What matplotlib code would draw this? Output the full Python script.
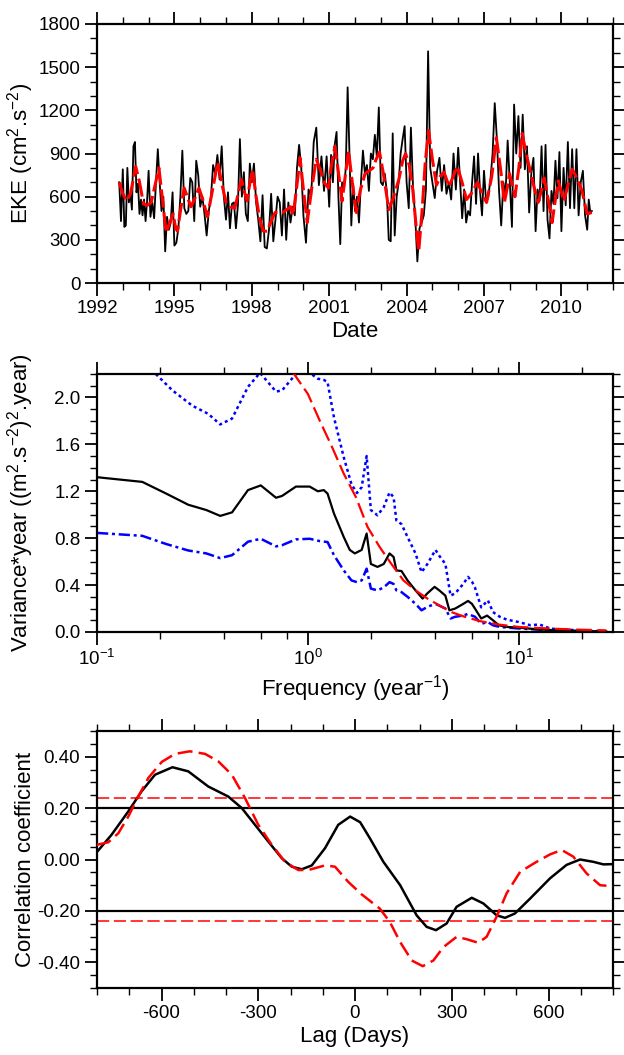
import numpy as np
import matplotlib
matplotlib.use("Agg")
import matplotlib.pyplot as plt
from matplotlib.ticker import MultipleLocator, FixedLocator, NullFormatter, FixedFormatter

plt.rcParams['font.family'] = ['Liberation Sans', 'DejaVu Sans']
plt.rcParams['axes.unicode_minus'] = False
plt.rcParams['mathtext.fontset'] = 'custom'
plt.rcParams['mathtext.rm'] = 'Liberation Sans'
plt.rcParams['mathtext.it'] = 'Liberation Sans'
plt.rcParams['mathtext.bf'] = 'Liberation Sans'

# ---------------- Panel 1: EKE time series ----------------
eke_start = 1992.86
eke_end = 2011.18
eke_years = [1992, 1993, 1994, 1995, 1996, 1997, 1998, 1999, 2000, 2001,
             2002, 2003, 2004, 2005, 2006, 2007, 2008, 2009, 2010, 2011]
eke_1992 = [700, 430]
eke_1993 = [790, 390, 400, 800, 560, 620, 510, 950, 980, 630, 690, 480, 580, 470, 580, 430, 570]
eke_1994 = [780, 460, 560, 450, 700, 930, 700, 500, 600, 220, 460, 370, 420, 630]
eke_1995 = [260, 280, 380, 600, 920, 520, 480, 500, 730, 700, 430, 850, 750]
eke_1996 = [530, 600, 480, 330, 500, 600, 820, 760, 890, 720, 950, 600]
eke_1997 = [440, 630, 380, 550, 560, 380, 540, 1000, 600, 770, 480, 430, 830]
eke_1998 = [700, 830, 560, 440, 290, 610, 250, 240, 370, 620, 290, 440]
eke_1999 = [600, 560, 330, 650, 300, 560, 420, 530, 470, 800, 960, 800]
eke_2000 = [470, 280, 650, 600, 980, 1080, 680, 880, 640, 880]
eke_2001 = [530, 890, 700, 960, 1050, 600, 270, 700, 650, 800, 1360, 900, 400, 690]
eke_2002 = [500, 600, 420, 700, 920, 760, 820, 640, 900, 860, 1030, 880, 1220]
eke_2003 = [700, 680, 760, 640, 300, 290, 1040, 330, 600, 700, 900, 1000, 1090]
eke_2004 = [700, 520, 1080, 660, 460, 150, 380, 420, 470, 650, 1610, 800]
eke_2005 = [700, 590, 780, 870, 640, 820, 620, 700, 580, 900, 650]
eke_2006 = [940, 700, 450, 650, 420, 500, 470, 700, 880, 550, 900, 640, 470]
eke_2007 = [780, 560, 600, 720, 900, 1250, 1000, 640, 400, 700, 610, 990]
eke_2008 = [700, 390, 1240, 900, 1160, 800, 1170, 790, 950, 490, 760, 870]
eke_2009 = [360, 650, 570, 950, 500, 960, 440, 310, 640, 550, 850, 590, 910]
eke_2010 = [360, 800, 540, 980, 520, 930, 520, 930, 470, 700, 780, 470]
eke_2011 = [370, 580, 490, 500]
eke_blocks = [eke_1992, eke_1993, eke_1994, eke_1995, eke_1996, eke_1997, eke_1998,
              eke_1999, eke_2000, eke_2001, eke_2002, eke_2003, eke_2004, eke_2005,
              eke_2006, eke_2007, eke_2008, eke_2009, eke_2010, eke_2011]

eke_smooth_t = [1992.86, 1993.0, 1993.15, 1993.3, 1993.5, 1993.65, 1993.8, 1993.95, 1994.1,
                1994.25, 1994.4, 1994.55, 1994.68, 1994.82, 1994.95, 1995.05, 1995.12, 1995.25,
                1995.38, 1995.5, 1995.64, 1995.8, 1995.95, 1996.1, 1996.28, 1996.45, 1996.68,
                1996.85, 1997.0, 1997.15, 1997.34, 1997.46, 1997.6, 1997.7, 1997.82, 1997.92,
                1998.03, 1998.15, 1998.3, 1998.45, 1998.6, 1998.75, 1998.9, 1999.05, 1999.2,
                1999.35, 1999.5, 1999.6, 1999.75, 1999.87, 2000.0, 2000.15, 2000.3, 2000.5,
                2000.65, 2000.8, 2000.97, 2001.1, 2001.22, 2001.35, 2001.5, 2001.62, 2001.75,
                2001.9, 2002.05, 2002.2, 2002.39, 2002.55, 2002.7, 2002.82, 2002.95, 2003.1,
                2003.31, 2003.5, 2003.7, 2003.85, 2003.96, 2004.1, 2004.24, 2004.35, 2004.47,
                2004.6, 2004.72, 2004.85, 2005.0, 2005.16, 2005.3, 2005.45, 2005.55, 2005.65,
                2005.8, 2005.97, 2006.15, 2006.32, 2006.5, 2006.75, 2006.95, 2007.1, 2007.3,
                2007.48, 2007.65, 2007.79, 2007.9, 2007.99, 2008.1, 2008.2, 2008.35, 2008.48,
                2008.62, 2008.79, 2008.95, 2009.1, 2009.22, 2009.33, 2009.5, 2009.64, 2009.75,
                2009.88, 2010.0, 2010.1, 2010.25, 2010.42, 2010.6, 2010.8, 2010.92, 2011.0, 2011.18]
eke_smooth_v = [700, 620, 570, 620, 810, 700, 550, 540, 560,
                680, 800, 560, 350, 420, 480, 380, 360, 520,
                660, 600, 530, 590, 660, 580, 460, 620, 840,
                680, 560, 530, 520, 610, 720, 640, 570, 690,
                790, 620, 450, 360, 360, 430, 490, 490, 490,
                510, 530, 470, 680, 870, 650, 420, 630, 860,
                790, 700, 660, 830, 950, 780, 570, 740, 920,
                690, 490, 640, 760, 780, 800, 860, 910, 760,
                510, 600, 720, 850, 900, 820, 650, 430, 220,
                500, 830, 1060, 860, 680, 740, 770, 720, 670,
                740, 810, 700, 580, 620, 700, 610, 560, 740,
                1010, 780, 560, 660, 760, 680, 600, 800, 1040,
                910, 780, 660, 560, 640, 730, 570, 420, 560,
                710, 630, 570, 680, 790, 730, 640, 540, 480, 490]

# ---------------- Panel 2: spectrum ----------------
spec_f = [0.1, 0.164, 0.213, 0.271, 0.33, 0.384, 0.437, 0.52, 0.598, 0.706, 0.754, 0.878,
          1.02, 1.115, 1.19, 1.24, 1.33, 1.48, 1.58, 1.67, 1.80, 1.90, 1.99, 2.14, 2.29,
          2.44, 2.55, 2.63, 2.78, 2.97, 3.24, 3.5, 3.69, 3.99, 4.2, 4.49, 4.69, 5.0, 5.46,
          5.75, 6.0, 6.2, 6.64, 7.08, 7.55, 8.06, 8.8, 10.0, 11.4, 13.0, 15.5, 19.2, 26.0]
spec_v = [1.32, 1.28, 1.18, 1.085, 1.04, 0.99, 1.02, 1.21, 1.25, 1.145, 1.16, 1.24,
          1.24, 1.20, 1.21, 1.18, 1.01, 0.81, 0.70, 0.67, 0.70, 0.84, 0.58, 0.555, 0.58,
          0.67, 0.64, 0.525, 0.52, 0.44, 0.355, 0.285, 0.33, 0.385, 0.355, 0.31, 0.185, 0.20, 0.24,
          0.265, 0.24, 0.20, 0.115, 0.14, 0.10, 0.057, 0.043, 0.037, 0.028, 0.02, 0.014, 0.009, 0.005]

up_f = [0.1, 0.164, 0.19, 0.228, 0.283, 0.337, 0.384, 0.437, 0.52, 0.593, 0.706, 0.754, 0.878,
        1.02, 1.115, 1.19, 1.24, 1.33, 1.48, 1.61, 1.71, 1.80, 1.90, 1.99, 2.14, 2.29, 2.44,
        2.55, 2.63, 2.78, 2.97, 3.24, 3.46, 3.69, 4.03, 4.2, 4.49, 4.75, 5.0, 5.46, 5.75, 6.0,
        6.2, 6.64, 7.14, 7.55, 8.13, 8.8, 10.0, 11.4, 12.5, 14.2, 17.0, 21.0, 26.0]
up_v = [2.35, 2.28, 2.2, 2.06, 1.93, 1.86, 1.77, 1.82, 2.09, 2.21, 2.05, 2.06, 2.2,
        2.21, 2.16, 2.15, 2.13, 1.83, 1.49, 1.26, 1.185, 1.235, 1.5, 1.04, 0.995, 1.065, 1.19,
        1.15, 0.95, 0.92, 0.81, 0.67, 0.51, 0.58, 0.70, 0.65, 0.58, 0.31, 0.33, 0.41, 0.47, 0.43,
        0.38, 0.21, 0.27, 0.17, 0.13, 0.105, 0.085, 0.057, 0.065, 0.028, 0.02, 0.009, 0.006]

lo_f = [0.1, 0.164, 0.213, 0.271, 0.33, 0.384, 0.437, 0.52, 0.598, 0.706, 0.754, 0.878,
        1.02, 1.14, 1.24, 1.33, 1.48, 1.61, 1.71, 1.80, 1.90, 1.99, 2.14, 2.29, 2.44, 2.55,
        2.63, 2.78, 2.97, 3.24, 3.46, 3.69, 4.03, 4.2, 4.49, 4.75, 5.0, 5.46, 5.75, 6.0, 6.2,
        6.64, 7.14, 7.55, 8.13, 10.0, 12.5, 17.0, 26.0]
lo_v = [0.845, 0.82, 0.75, 0.695, 0.67, 0.63, 0.655, 0.77, 0.795, 0.73, 0.74, 0.79,
        0.795, 0.775, 0.767, 0.655, 0.525, 0.44, 0.425, 0.44, 0.54, 0.37, 0.355, 0.38, 0.425, 0.41,
        0.355, 0.34, 0.30, 0.24, 0.185, 0.215, 0.24, 0.225, 0.20, 0.115, 0.13, 0.14, 0.155, 0.14, 0.13,
        0.07, 0.085, 0.057, 0.043, 0.03, 0.02, 0.011, 0.005]

red_f = [0.8, 0.86, 1.0, 1.14, 1.30, 1.48, 1.69, 1.92, 2.19, 2.49, 2.84, 3.24, 3.69, 4.2,
         4.79, 5.46, 6.5, 8.06, 10.0, 12.5, 15.5, 19.2, 26.0]
red_v = [2.4, 2.2, 2.03, 1.80, 1.58, 1.35, 1.15, 0.895, 0.725, 0.58, 0.44, 0.355, 0.285, 0.227,
         0.17, 0.134, 0.094, 0.063, 0.043, 0.034, 0.026, 0.02, 0.014]

# ---------------- Panel 3: lagged correlation ----------------
lag_k = [-801, -755, -703, -662, -620, -566, -517, -455, -393, -351, -310, -269, -227, -196,
         -165, -134, -93, -52, -15, 16, 46, 88, 140, 191, 222, 251, 284, 315, 362, 398, 439,
         465, 496, 543, 605, 656, 698, 739, 770, 800]
corr_k = [0.028, 0.096, 0.187, 0.265, 0.330, 0.359, 0.343, 0.284, 0.245, 0.200, 0.135, 0.070,
          0.005, -0.028, -0.038, -0.023, 0.044, 0.135, 0.167, 0.145, 0.083, -0.009, -0.100, -0.217,
          -0.262, -0.275, -0.249, -0.184, -0.149, -0.171, -0.217, -0.227, -0.210, -0.152, -0.073,
          -0.021, 0.000, -0.009, -0.019, -0.018]
lag_r = [-801, -765, -734, -703, -672, -641, -599, -558, -512, -465, -424, -382, -341, -300,
         -258, -217, -176, -145, -93, -62, -21, 20, 77, 108, 140, 176, 210, 243, 274, 315, 346,
         382, 408, 439, 470, 512, 563, 605, 641, 677, 718, 760, 800]
corr_r = [0.057, 0.067, 0.102, 0.167, 0.245, 0.317, 0.380, 0.411, 0.421, 0.411, 0.382, 0.330,
          0.239, 0.135, 0.057, -0.009, -0.041, -0.041, -0.023, -0.028, -0.087, -0.135, -0.191,
          -0.243, -0.321, -0.393, -0.415, -0.393, -0.341, -0.301, -0.310, -0.324, -0.301, -0.223,
          -0.132, -0.048, -0.009, 0.020, 0.037, 0.011, -0.054, -0.100, -0.104]
sig_black = [0.20, -0.20]
sig_red = [0.239, -0.239]

# ---------------- Figure ----------------
W, H = 624, 1055
fig = plt.figure(figsize=(W / 100, H / 100), dpi=100)

def frame(top_px, bot_px):
    return fig.add_axes([97 / W, 1 - bot_px / H, (613 - 97) / W, (bot_px - top_px) / H])

def style(ax):
    for s in ax.spines.values():
        s.set_linewidth(1.6)
    ax.tick_params(which='both', direction='out', top=True, right=True,
                   labeltop=False, labelright=False, labelsize=13.5, pad=3)
    ax.tick_params(which='major', length=9, width=1.3)
    ax.tick_params(which='minor', length=5, width=1.0)

LABEL_FS = 16

# Panel 1
ax1 = frame(24, 283)
t_all, v_all = [], []
for yr, blk in zip(eke_years, eke_blocks):
    n = len(blk)
    if yr == eke_years[0]:
        ts = np.linspace(eke_start, yr + 1, n, endpoint=False)
    elif yr == eke_years[-1]:
        ts = np.linspace(yr, eke_end, n)
    else:
        ts = yr + np.arange(n) / n
    t_all.extend(ts)
    v_all.extend(blk)
ax1.plot(t_all, v_all, color='black', lw=1.3, zorder=2)
ax1.plot(eke_smooth_t, eke_smooth_v, color='red', lw=2.2, dashes=(6, 1.5), zorder=3)
ax1.set_xlim(1992, 2012)
ax1.set_ylim(0, 1800)
ax1.xaxis.set_major_locator(FixedLocator([1992, 1995, 1998, 2001, 2004, 2007, 2010]))
ax1.xaxis.set_major_formatter(FixedFormatter(['1992', '1995', '1998', '2001', '2004', '2007', '2010']))
ax1.xaxis.set_minor_locator(MultipleLocator(1))
ax1.yaxis.set_major_locator(MultipleLocator(300))
ax1.yaxis.set_minor_locator(MultipleLocator(100))
style(ax1)
ax1.set_xlabel('Date', fontsize=LABEL_FS, labelpad=3)
ax1.set_ylabel('EKE (cm$^{2}$.s$^{-2}$)', fontsize=LABEL_FS)

# Panel 2
ax2 = frame(374, 632)
ax2.set_xscale('log')
ax2.plot(up_f, up_v, color='blue', lw=1.8, dashes=(1.2, 1.3), zorder=2)
ax2.plot(lo_f, lo_v, color='blue', lw=1.8, dashes=(4.5, 1.5, 1.2, 1.5), zorder=2)
ax2.plot(spec_f, spec_v, color='black', lw=1.6, zorder=3)
ax2.plot(red_f, red_v, color='red', lw=1.6, dashes=(7, 2.5), zorder=4)
ax2.set_xlim(0.1, 28)
ax2.set_ylim(0, 2.2)
ax2.xaxis.set_major_locator(FixedLocator([0.1, 1, 10]))
ax2.xaxis.set_major_formatter(FixedFormatter(['10$^{-1}$', '10$^{0}$', '10$^{1}$']))
minors = [m * d for d in (0.1, 1, 10) for m in (2, 4, 6, 8)]
ax2.xaxis.set_minor_locator(FixedLocator([m for m in minors if m <= 28]))
ax2.xaxis.set_minor_formatter(NullFormatter())
ax2.yaxis.set_major_locator(FixedLocator([0.0, 0.4, 0.8, 1.2, 1.6, 2.0]))
ax2.yaxis.set_major_formatter(FixedFormatter(['0.0', '0.4', '0.8', '1.2', '1.6', '2.0']))
ax2.yaxis.set_minor_locator(MultipleLocator(0.1))
style(ax2)
ax2.set_xlabel('Frequency (year$^{-1}$)', fontsize=LABEL_FS, labelpad=3)
ax2.set_ylabel('Variance*year ((m$^{2}$.s$^{-2}$)$^{2}$.year)', fontsize=LABEL_FS)

# Panel 3
ax3 = frame(731, 988)
for s in sig_black:
    ax3.axhline(s, color='black', lw=1.6, zorder=2)
for s in sig_red:
    ax3.axhline(s, color='red', lw=1.1, dashes=(8, 3), zorder=2)
ax3.plot(lag_k, corr_k, color='black', lw=1.8, zorder=3)
ax3.plot(lag_r, corr_r, color='red', lw=1.8, dashes=(6, 2.5), zorder=4)
ax3.set_xlim(-800, 800)
ax3.set_ylim(-0.5, 0.5)
ax3.xaxis.set_major_locator(FixedLocator([-600, -300, 0, 300, 600]))
ax3.xaxis.set_major_formatter(FixedFormatter(['-600', '-300', '0', '300', '600']))
ax3.xaxis.set_minor_locator(MultipleLocator(100))
ax3.yaxis.set_major_locator(FixedLocator([-0.4, -0.2, 0.0, 0.2, 0.4]))
ax3.yaxis.set_major_formatter(FixedFormatter(['-0.40', '-0.20', '0.00', '0.20', '0.40']))
ax3.yaxis.set_minor_locator(MultipleLocator(0.05))
style(ax3)
ax3.set_xlabel('Lag (Days)', fontsize=LABEL_FS, labelpad=3)
ax3.set_ylabel('Correlation coefficient', fontsize=LABEL_FS)

for ax in (ax1, ax2, ax3):
    ax.yaxis.set_label_coords(-0.118, 0.5)

fig.savefig('out.png', dpi=100)
